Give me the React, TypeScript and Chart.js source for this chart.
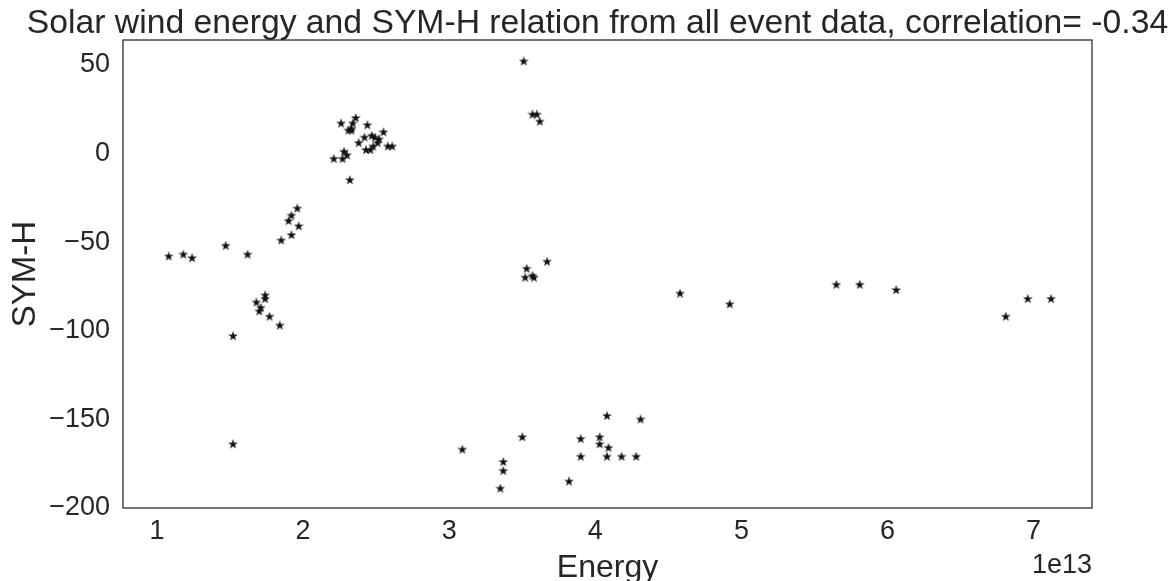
import React, { useEffect, useRef } from 'react';
import { Chart, registerables } from 'chart.js';

Chart.register(...registerables);

// Solar wind energy (J) for each event point
const energy = [
  1.08e13, 1.18e13, 1.24e13, 1.47e13, 1.62e13, 1.52e13, 1.52e13, 1.68e13, 1.71e13, 1.70e13,
  1.74e13, 1.74e13, 1.77e13, 1.84e13, 1.85e13, 1.92e13, 1.90e13, 1.92e13, 1.96e13, 1.97e13,
  2.21e13, 2.27e13, 2.28e13, 2.30e13, 2.32e13, 2.26e13, 2.31e13, 2.33e13, 2.34e13, 2.33e13,
  2.36e13, 2.38e13, 2.42e13, 2.43e13, 2.44e13, 2.46e13, 2.47e13, 2.48e13, 2.49e13, 2.51e13,
  2.52e13, 2.55e13, 2.58e13, 2.61e13,
  3.51e13, 3.57e13, 3.60e13, 3.62e13, 3.67e13, 3.53e13, 3.52e13, 3.57e13, 3.58e13,
  3.09e13, 3.37e13, 3.37e13, 3.35e13, 3.50e13, 3.82e13, 3.90e13, 3.90e13, 4.03e13, 4.03e13,
  4.08e13, 4.09e13, 4.08e13, 4.18e13, 4.28e13, 4.31e13,
  4.58e13, 4.92e13, 5.65e13, 5.81e13, 6.06e13, 6.81e13, 6.96e13, 7.12e13,
];

// SYM-H (nT) for each event point
const symH = [
  -58, -57, -59, -52, -57, -103, -164, -84, -87, -89,
  -80, -82, -92, -97, -49, -46, -38, -35, -31, -41,
  -3, -3, 1, -1, -15, 17, 13, 14, 17, 13,
  20, 6, 9, 2, 16, 2, 10, 4, 9, 6,
  8, 12, 4, 4,
  52, 22, 22, 18, -61, -65, -70, -69, -70,
  -167, -174, -179, -189, -160, -185, -161, -171, -160, -164,
  -148, -166, -171, -171, -171, -150,
  -79, -85, -74, -74, -77, -92, -82, -82,
];

const xTickValues = [1e13, 2e13, 3e13, 4e13, 5e13, 6e13, 7e13];
const yTickValues = [-200, -150, -100, -50, 0, 50];

const titleText = 'Solar wind energy and SYM-H relation from all event data, correlation= -0.34';
const xLabel = 'Energy';
const yLabel = 'SYM-H';
const offsetLabel = '1e13';

const FONT = '"Liberation Sans", Arial, Helvetica, sans-serif';
const INK = '#262626';

function makeStar(): HTMLCanvasElement {
  const c = document.createElement('canvas');
  c.width = 10;
  c.height = 10;
  const g = c.getContext('2d')!;
  const cx = 5, cy = 5.2, ro = 4.6, ri = 1.85;
  g.beginPath();
  for (let i = 0; i < 10; i++) {
    const r = i % 2 === 0 ? ro : ri;
    const a = -Math.PI / 2 + (i * Math.PI) / 5;
    const px = cx + r * Math.cos(a);
    const py = cy + r * Math.sin(a);
    if (i === 0) g.moveTo(px, py);
    else g.lineTo(px, py);
  }
  g.closePath();
  g.fillStyle = '#111111';
  g.fill();
  g.strokeStyle = 'rgba(17,17,17,0.6)';
  g.lineWidth = 0.5;
  g.stroke();
  return c;
}

const framePlugin = {
  id: 'frameAndTitle',
  afterDraw(chart: any) {
    const { ctx, chartArea: a } = chart;
    ctx.save();
    ctx.strokeStyle = INK;
    ctx.lineWidth = 1.25;
    ctx.strokeRect(a.left, a.top, a.right - a.left, a.bottom - a.top);
    ctx.fillStyle = INK;
    ctx.font = `33.7px ${FONT}`;
    ctx.textAlign = 'center';
    ctx.textBaseline = 'alphabetic';
    ctx.fillText(titleText, (a.left + a.right) / 2 - 10, 33);
    ctx.font = `27px ${FONT}`;
    ctx.textAlign = 'right';
    ctx.fillText(offsetLabel, a.right, 573);
    ctx.restore();
  },
};

export default function App() {
  const ref = useRef<HTMLCanvasElement | null>(null);

  useEffect(() => {
    if (!ref.current) return;
    const star = makeStar();
    const data = energy.map((x, i) => ({ x, y: symH[i] }));
    const chart = new Chart(ref.current, {
      type: 'scatter',
      data: {
        datasets: [
          {
            data,
            pointStyle: star as any,
            pointRadius: 4,
            backgroundColor: '#111111',
            borderColor: '#111111',
          },
        ],
      },
      options: {
        animation: false,
        responsive: false,
        devicePixelRatio: 1,
        layout: { padding: { top: 40, right: 81, left: 0, bottom: 0 } },
        plugins: {
          legend: { display: false },
          tooltip: { enabled: false },
          title: { display: false },
        },
        scales: {
          x: {
            type: 'linear',
            min: 0.767e13,
            max: 7.4e13,
            grid: { display: false, drawTicks: false },
            border: { display: false },
            afterFit(scale: any) {
              scale.height = 73;
            },
            afterBuildTicks(scale: any) {
              scale.ticks = xTickValues.map((v) => ({ value: v }));
            },
            ticks: {
              color: INK,
              font: { family: FONT, size: 27 },
              padding: 7,
              maxRotation: 0,
              callback: (v: any) => String(Math.round(Number(v) / 1e13)),
            },
            title: {
              display: true,
              text: xLabel,
              color: INK,
              font: { family: FONT, size: 32, lineHeight: 1 },
              padding: { top: 0, bottom: -3 },
            },
          },
          y: {
            type: 'linear',
            min: -200,
            max: 64,
            grid: { display: false, drawTicks: false },
            border: { display: false },
            afterFit(scale: any) {
              scale.width = 123;
            },
            afterBuildTicks(scale: any) {
              scale.ticks = yTickValues.map((v) => ({ value: v }));
            },
            ticks: {
              color: INK,
              font: { family: FONT, size: 27 },
              padding: 13,
              callback: (v: any) => String(v).replace('-', '\u2212'),
            },
            title: {
              display: true,
              text: yLabel,
              color: INK,
              font: { family: FONT, size: 33, lineHeight: 1 },
              padding: { top: 9, bottom: 0 },
            },
          },
        },
      },
      plugins: [framePlugin],
    });
    return () => chart.destroy();
  }, []);

  return (
    <div style={{ position: 'absolute', left: 0, top: 0, width: 1173, height: 581, background: '#ffffff' }}>
      <canvas ref={ref} width={1173} height={581} />
    </div>
  );
}
